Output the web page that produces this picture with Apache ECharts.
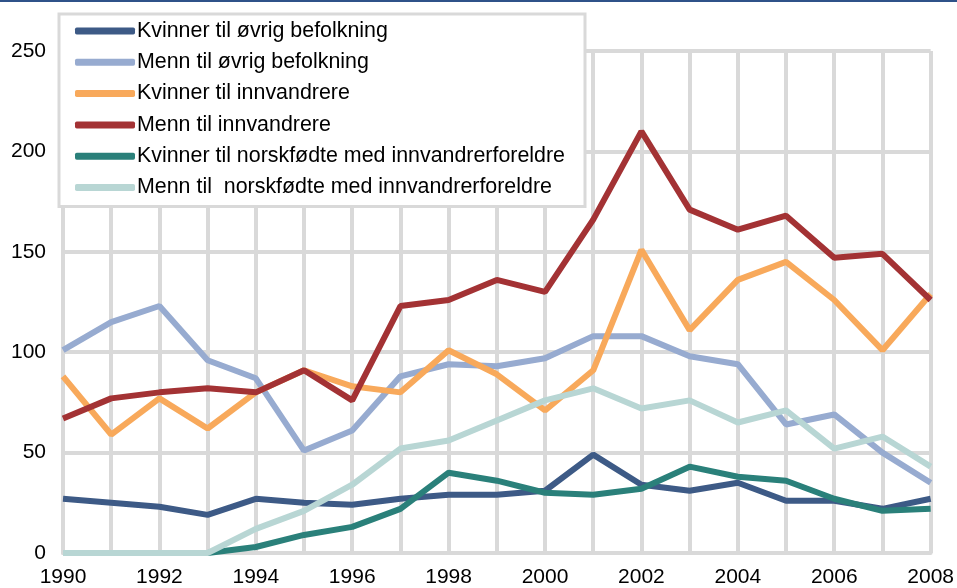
<!DOCTYPE html>
<html>
<head>
<meta charset="utf-8">
<script src="https://cdn.jsdelivr.net/npm/echarts@6/dist/echarts.min.js"></script>
<style>
  html, body { margin: 0; padding: 0; background: #fff; }
  #chart { width: 957px; height: 588px; }
</style>
</head>
<body>
<div id="chart"></div>
<script>
var years = ["1990","1991","1992","1993","1994","1995","1996","1997","1998","1999",
             "2000","2001","2002","2003","2004","2005","2006","2007","2008"];

var kvinnerOvrig = [27, 25, 23, 19, 27, 25, 24, 27, 29, 29, 31, 49, 34, 31, 35, 26, 26, 22, 27];
var mennOvrig = [101, 115, 123, 96, 87, 51, 61, 88, 94, 93, 97, 108, 108, 98, 94, 64, 69, 50, 35];
var kvinnerInnv = [88, 59, 77, 62, 80, 91, 83, 80, 101, 89, 71, 91, 151, 111, 136, 145, 126, 101, 129];
var mennInnv = [67, 77, 80, 82, 80, 91, 76, 123, 126, 136, 130, 166, 210, 171, 161, 168, 147, 149, 126];
var kvinnerNorsk = [0, 0, 0, 0, 3, 9, 13, 22, 40, 36, 30, 29, 32, 43, 38, 36, 27, 21, 22];
var mennNorsk = [0, 0, 0, 0, 12, 21, 34, 52, 56, 66, 76, 82, 72, 76, 65, 71, 52, 58, 43];

var names = [
  "Kvinner til øvrig befolkning",
  "Menn til øvrig befolkning",
  "Kvinner til innvandrere",
  "Menn til innvandrere",
  "Kvinner til norskfødte med innvandrerforeldre",
  "Menn til  norskfødte med innvandrerforeldre"
];
var colors = ["#3D5A86", "#97ABD0", "#F8A95B", "#A33234", "#2A807A", "#B8D6D4"];
var values = [kvinnerOvrig, mennOvrig, kvinnerInnv, mennInnv, kvinnerNorsk, mennNorsk];

var chart = echarts.init(document.getElementById("chart"));

var series = [];
values.forEach(function (v, i) {
  series.push({
    name: names[i],
    type: "line",
    data: v,
    showSymbol: false,
    symbol: "none",
    color: colors[i],
    lineStyle: { width: 6, color: colors[i] },
    z: 3 + i
  });
});

var font = "'Liberation Sans', Arial, sans-serif";

var option = {
  backgroundColor: "#fff",
  animation: false,
  color: colors,
  graphic: [
    { type: "rect", left: 0, top: 0, shape: { width: 957, height: 2 }, style: { fill: "#2F5289" } }
  ],
  grid: { left: 63, right: 25, top: 51, bottom: 33 },
  legend: {
    orient: "vertical",
    left: 59,
    top: 14,
    data: names,
    backgroundColor: "#fff",
    borderColor: "#D9D9D9",
    borderWidth: 3,
    borderRadius: 0,
    padding: [6, 20, 8, 16],
    itemGap: 9.3,
    itemWidth: 60,
    itemHeight: 7,
    icon: "roundRect",
    textStyle: { fontFamily: font, fontSize: 21.4, color: "#000", lineHeight: 22, padding: [0, 0, 0, -3] }
  },
  xAxis: {
    type: "category",
    data: years,
    boundaryGap: false,
    axisLine: { show: true, lineStyle: { color: "#D9D9D9", width: 4 } },
    axisTick: { show: false },
    axisLabel: { interval: 1, margin: 14, fontFamily: font, fontSize: 21, color: "#000" },
    splitLine: { show: true, interval: 0, lineStyle: { color: "#D9D9D9", width: 4 } }
  },
  yAxis: {
    type: "value",
    min: 0,
    max: 250,
    interval: 50,
    axisLine: { show: true, lineStyle: { color: "#D9D9D9", width: 4 } },
    axisTick: { show: false },
    axisLabel: { margin: 17, fontFamily: font, fontSize: 21, color: "#000" },
    splitLine: { show: true, lineStyle: { color: "#D9D9D9", width: 4 } }
  },
  series: series
};

chart.setOption(option);
</script>
</body>
</html>
